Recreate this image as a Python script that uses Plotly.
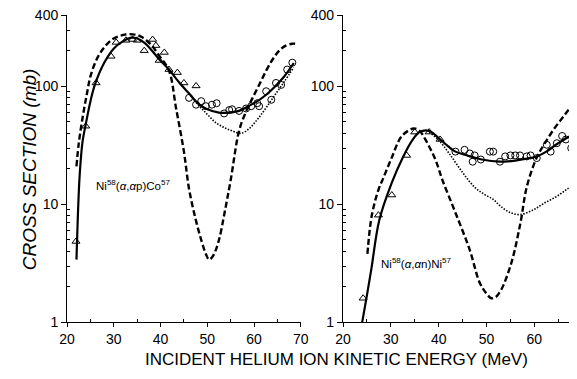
import plotly.graph_objects as go

# ---------------- Left panel: Ni58(a,ap)Co57 ----------------
L_tri_x = [21.9, 24.0, 26.2, 29.4, 30.5, 32.6, 34.0, 35.0, 36.5, 38.3, 39.0, 39.7, 40.8, 41.8, 43.6, 45.0, 47.6]
L_tri_y = [4.85, 46, 107, 180, 236, 246, 250, 246, 201, 250, 222, 166, 194, 139, 131, 107, 101]
L_circ_x = [46.1, 47.6, 48.7, 49.7, 51.0, 52.0, 53.6, 54.7, 55.3, 56.8, 58.3, 59.4, 60.7, 61.1, 62.6, 63.7, 64.7, 65.8, 67.1, 68.2]
L_circ_y = [80, 70, 75, 68, 70, 72, 59, 63, 64, 62, 65, 68, 72, 68, 91, 77, 107, 103, 139, 159]

L_solid_x = [22.0, 22.3, 22.7, 23.3, 24.0, 25.0, 26.0, 28.0, 30.0, 32.0, 33.5, 35.0, 36.5, 38.0, 39.7, 41.8, 44.0, 46.0, 48.3, 50.0, 52.5, 54.5, 56.8, 58.5, 60.5, 62.6, 64.5, 66.5, 68.5]
L_solid_y = [3.4, 8, 18, 34, 48, 75, 105, 160, 210, 242, 258, 255, 235, 205, 170, 139, 108, 88, 70, 64, 60, 60, 62, 67, 74, 85, 100, 122, 158]

L_dash_x = [22.0, 22.5, 23.3, 24.2, 25.1, 26.9, 29.7, 32.6, 34.5, 36.0, 38.0, 39.7, 41.8, 43.3, 45.0, 46.1, 47.5, 48.7, 49.7, 50.4, 51.3, 52.5, 53.7, 55.0, 56.8, 58.2, 59.7, 61.2, 62.6, 64.0, 65.4, 66.8, 68.2, 68.8]
L_dash_y = [21, 33, 54, 85, 126, 187, 251, 276, 275, 262, 225, 182, 136, 66, 28, 13.5, 7.5, 5.0, 3.8, 3.4, 3.7, 5.0, 8.5, 16, 42, 60, 80, 105, 136, 170, 201, 222, 230, 230]

L_dot_x = [46.0, 48.3, 50.0, 51.9, 53.5, 55.3, 57.2, 59.0, 60.8, 62.6, 64.5, 66.5, 68.5]
L_dot_y = [88, 68, 58, 49, 45, 42, 40, 44, 53, 66, 85, 110, 145]

# ---------------- Right panel: Ni58(a,an)Ni57 ----------------
R_tri_x = [24.2, 27.4, 30.2, 33.3, 35.0, 38.0, 40.3]
R_tri_y = [1.6, 8.1, 12, 26, 41, 41, 35.5]
R_circ_x = [43.5, 45.4, 46.5, 47.1, 47.5, 48.8, 50.7, 51.4, 52.8, 53.9, 55.0, 56.0, 57.0, 58.4, 59.2, 60.5, 62.6, 63.4, 64.7, 65.8, 66.6, 67.7]
R_circ_y = [28, 29, 27, 23, 26, 24, 28, 28, 23, 25.5, 26, 26, 26, 25.5, 26, 24.7, 32, 28, 33, 38, 35.5, 30]

R_solid_x = [24.0, 25.0, 25.9, 27.6, 30.2, 32.5, 34.5, 36.0, 38.0, 40.3, 42.0, 43.5, 46.0, 49.0, 52.8, 56.0, 58.5, 60.5, 62.5, 64.5, 66.5, 68.0, 69.8]
R_solid_y = [1.0, 1.7, 2.8, 7.4, 15.3, 25, 35, 41, 42, 35.5, 31, 28, 26, 24, 23, 23.5, 24.5, 25.5, 28, 32, 36, 39, 44]

R_dash_x = [25.1, 26.0, 27.4, 28.5, 30.2, 32.3, 34.8, 36.0, 37.2, 39.3, 40.8, 43.5, 46.5, 48.6, 50.0, 51.0, 52.0, 53.1, 55.2, 57.1, 58.4, 60.5, 62.0, 64.0, 66.0, 67.7, 69.8]
R_dash_y = [3.8, 8, 13.3, 17, 25, 38, 44, 42, 35.5, 24, 16, 8.5, 4.1, 2.15, 1.75, 1.6, 1.65, 1.9, 3.2, 7, 14, 25, 32, 43, 55, 68, 89]

R_dot_x = [38.0, 40.0, 42.2, 45.0, 47.5, 49.5, 51.4, 53.0, 55.0, 57.1, 59.8, 62.0, 64.7, 67.0, 69.0]
R_dot_y = [41, 35, 27, 18.6, 14, 12.2, 11, 9.6, 8.5, 8.2, 9, 10.2, 11.7, 13.6, 15.3]

y_tickvals = [1, 10, 100, 400]
y_ticktext = ["1", "10", "100", "400"]
y_minor = [2, 3, 4, 5, 6, 7, 8, 9, 20, 30, 40, 50, 60, 70, 80, 90, 200, 300]
x_tickvals = [20, 30, 40, 50, 60, 70]
x_minor = [25, 35, 45, 55, 65]

FONT = "Liberation Sans"
NARROW = "Liberation Sans Narrow, Liberation Sans"
W, H = 577, 379
# measured page-to-photo mapping: photo = A * figure_px + B
AX, BX = 0.9655, 9.3
AY, BY = 0.958, 7.6

fig = go.Figure()

def add_panel(xa, ya, sx, sy, dx, dy, ox, oy, tx, ty, cx, cy):
    fig.add_trace(go.Scatter(x=sx, y=sy, mode="lines", line=dict(color="black", width=2.2, shape="spline"),
                             xaxis=xa, yaxis=ya, showlegend=False, hoverinfo="skip"))
    fig.add_trace(go.Scatter(x=dx, y=dy, mode="lines", line=dict(color="black", width=2.4, dash="6px,3px", shape="spline"),
                             xaxis=xa, yaxis=ya, showlegend=False, hoverinfo="skip"))
    fig.add_trace(go.Scatter(x=ox, y=oy, mode="lines", line=dict(color="black", width=1.6, dash="1.5px,1.5px", shape="spline"),
                             xaxis=xa, yaxis=ya, showlegend=False, hoverinfo="skip"))
    fig.add_trace(go.Scatter(x=tx, y=ty, mode="markers",
                             marker=dict(symbol="triangle-up-open", size=7, color="black", line=dict(width=1)),
                             xaxis=xa, yaxis=ya, showlegend=False, hoverinfo="skip"))
    fig.add_trace(go.Scatter(x=cx, y=cy, mode="markers",
                             marker=dict(symbol="circle-open", size=7, color="black", line=dict(width=1)),
                             xaxis=xa, yaxis=ya, showlegend=False, hoverinfo="skip"))

add_panel("x", "y", L_solid_x, L_solid_y, L_dash_x, L_dash_y, L_dot_x, L_dot_y, L_tri_x, L_tri_y, L_circ_x, L_circ_y)
add_panel("x2", "y2", R_solid_x, R_solid_y, R_dash_x, R_dash_y, R_dot_x, R_dot_y, R_tri_x, R_tri_y, R_circ_x, R_circ_y)

xcommon = dict(tickvals=x_tickvals, ticks="outside", ticklen=4, tickcolor="black",
               showline=True, linecolor="black", linewidth=1.2, showgrid=False, zeroline=False,
               tickfont=dict(family=FONT, size=14, color="black"), ticklabeloverflow="allow",
               minor=dict(tickvals=x_minor, ticks="inside", ticklen=3, tickcolor="black"))
ycommon = dict(type="log", range=[0, 2.6021], tickvals=y_tickvals, ticktext=y_ticktext,
               ticks="outside", ticklen=5, tickcolor="black",
               showline=True, linecolor="black", linewidth=1.2, showgrid=False, zeroline=False,
               tickfont=dict(family=FONT, size=14, color="black"), ticklabeloverflow="allow",
               minor=dict(tickvals=y_minor, ticks="inside", ticklen=3, tickcolor="black"))

def fx(px):
    return ((px - BX) / AX) / W

def fy(py):
    return 1 - ((py - BY) / AY) / H

# right panel: 4.75 px per MeV in the reference, axis at x=342, figure edge limits the range
R_XMAX = 20 + ((W * AX + BX) - 342) / 4.75

def px_ann(text, x, y, size, family, angle=0, yanchor="middle"):
    return dict(text=text, x=fx(x), y=fy(y), xref="paper", yref="paper", showarrow=False,
                xanchor="center", yanchor=yanchor, textangle=angle,
                font=dict(family=family, size=size, color="black"))

fig.update_layout(
    width=W, height=H,
    margin=dict(l=0, r=0, t=0, b=0),
    paper_bgcolor="white", plot_bgcolor="white",
    xaxis=dict(domain=[fx(68), fx(300)], anchor="y", range=[20, 70], **xcommon),
    yaxis=dict(domain=[fy(322), fy(15)], anchor="x", **ycommon),
    xaxis2=dict(domain=[fx(342), 1.0], anchor="y2", range=[20, R_XMAX], **xcommon),
    yaxis2=dict(domain=[fy(322), fy(15)], anchor="x2", **ycommon),
    annotations=[
        px_ann("Ni<sup>58</sup>(<i>α</i>,<i>α</i>p)Co<sup>57</sup>", 133, 185, 11.5, FONT),
        px_ann("Ni<sup>58</sup>(<i>α</i>,<i>α</i>n)Ni<sup>57</sup>", 415, 263, 11.5, FONT),
        px_ann("<i>CROSS SECTION (mb)</i>", 31, 169, 19, NARROW, angle=-90),
        px_ann("INCIDENT HELIUM ION KINETIC ENERGY (MeV)", 336, 370, 17, NARROW, yanchor="bottom"),
    ],
)
fig.layout.annotations[3].y = 0.0

fig.write_html("out.html")
